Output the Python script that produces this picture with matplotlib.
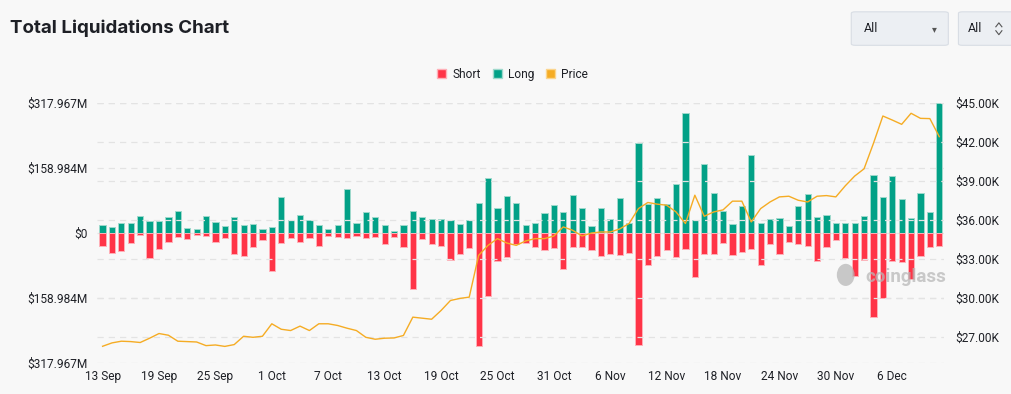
#!/usr/bin/env python3
"""Total liquidations (long / short) with BTC price overlay."""
import matplotlib
matplotlib.use("Agg")
import matplotlib.pyplot as plt
from matplotlib.patches import Patch, FancyBboxPatch, Ellipse
from matplotlib.lines import Line2D
from matplotlib.ticker import FixedLocator, FuncFormatter
import numpy as np
import pandas as pd

dates = pd.date_range("2023-09-13", "2023-12-11", freq="D")

# liquidations, million USD
long_vals = [
    20.5, 15.6, 24.6, 25.5, 42.7, 30.4, 30.4, 40.3, 55, 14, 9.9, 42.7, 27, 18, 39.4,
    19.7, 22, 10.7, 15.6, 89.6, 33.7, 43.5, 33.7,
    21, 10.7, 19.7, 108.5, 24.6, 51, 41, 20.5, 5.7, 19.7, 53.4, 39.4, 36, 36, 32,
    23, 33.7, 74.8, 134.8, 62.4, 92, 74,
    19.7, 24, 50, 68, 51.8, 93.7, 61.6, 18, 60.8, 35.3, 86, 26.3, 222, 71.5, 85.5,
    72, 120, 295, 33.7, 170, 98.6, 53.4,
    23, 67.4, 192, 26.3, 34.5, 37, 17.3, 66.5, 95.3, 40, 43.5, 25.5, 24, 24.6, 42.7,
    143, 88.7, 140.5, 84.5, 38.6, 98.6, 51.8, 317.967,
]
short_vals = [
    31, 49, 43.5, 24.6, 5, 60, 39.4, 20.5, 9, 13, 5, 7.4, 22, 12.3, 51, 55, 33, 17,
    93, 24, 12.3, 20.5, 12,
    31, 5.7, 8, 10.7, 6.6, 10.7, 9, 26, 9.9, 33.7, 136, 14.8, 27, 30.4, 66.5, 50,
    37, 276, 152.8, 68, 58, 26,
    24, 33.7, 40, 36, 88, 33.7, 33.7, 42, 56.7, 51.8, 53.4, 48.5, 273.6, 77, 55, 42,
    57.5, 38.6, 107.7, 51.8, 51.8, 24,
    52.6, 46, 38.6, 77, 26.3, 51.8, 20.5, 25.5, 30.4, 68, 33, 17.3, 60, 104, 65, 204,
    157.7, 68, 70.7, 111.7, 56.7, 33.7, 31,
]
# BTC price, thousand USD
price_vals = [
    26.31, 26.57, 26.7, 26.67, 26.6, 26.93, 27.29, 27.16, 26.7, 26.67, 26.64, 26.36,
    26.41, 26.3, 26.44, 27.08, 27.0, 27.08, 28.04, 27.62, 27.52, 27.86, 27.52,
    28.04, 28.04, 27.91, 27.7, 27.52, 27.0, 26.85, 26.93, 26.95, 27.14, 28.55, 28.47,
    28.39, 29.06, 29.83, 29.99, 30.09, 33.3, 34.07, 34.59, 34.25, 34.07,
    34.41, 34.59, 34.59, 34.79, 35.49, 35.23, 34.79, 35.02, 35.1, 35.1, 35.33, 35.75,
    36.9, 37.37, 37.24, 37.16, 36.64, 35.75, 37.93, 36.31, 36.64, 36.8,
    37.47, 37.47, 35.87, 36.9, 37.41, 37.8, 37.85, 37.54, 37.41, 37.85, 37.9, 37.8,
    38.65, 39.4, 39.96, 41.92, 44.02, 43.71, 43.38, 44.23, 43.84, 43.82, 42.43,
]
left_ticks = [-317.967, -158.984, 0, 158.984, 317.967]
right_ticks = [27, 30, 33, 36, 39, 42, 45]

BG = "#f8f8f8"
RED = "#ff3447"
GREEN = "#02a187"
ORANGE = "#f5ac24"
TXT = "#1e2026"

plt.rcParams["font.family"] = ["Roboto", "DejaVu Sans"]

fig = plt.figure(figsize=(10.11, 3.94), dpi=100, facecolor=BG)
ax = fig.add_axes([0.0959, 0.0779, 0.8378, 0.66], facecolor=BG)
ax2 = ax.twinx()

x = np.arange(len(dates))
ax.bar(x, long_vals, width=0.66, color=GREEN, edgecolor="#9fd9cc", linewidth=0.7, zorder=2)
ax.bar(x, [-v for v in short_vals], width=0.66, color=RED, edgecolor="#ffb0b8",
       linewidth=0.7, zorder=2)
ax2.plot(x, price_vals, color=ORANGE, lw=1.0, zorder=3)

ax.set_xlim(-0.6, len(dates) - 0.5)
ax.set_ylim(-317.967, 317.967)
ax2.set_ylim(25, 45)
ax.yaxis.set_major_locator(FixedLocator(left_ticks))
ax.yaxis.set_major_formatter(FuncFormatter(
    lambda v, _: "$0" if abs(v) < 1e-6 else f"${abs(v):.3f}M"))
ax2.yaxis.set_major_locator(FixedLocator(right_ticks))
ax2.yaxis.set_major_formatter(FuncFormatter(lambda v, _: f"${v:.2f}K"))

tick_idx = x[::6]
ax.set_xticks(tick_idx, [f"{d.day} {d.strftime('%b')}" for d in dates[tick_idx]])

for a in (ax, ax2):
    for s in a.spines.values():
        s.set_visible(False)
    a.tick_params(length=0, labelsize=8.6, colors=TXT)
ax.tick_params(axis="y", pad=7)
ax.tick_params(axis="x", pad=5)
ax2.tick_params(axis="y", pad=8)

grid_kw = dict(color="#e3e3e3", lw=0.9, ls=(0, (5, 4)))
ax.grid(True, axis="y", **grid_kw)
ax2.grid(True, axis="y", **grid_kw)
ax.set_zorder(ax2.get_zorder() - 1)
ax2.patch.set_visible(False)
ax.set_axisbelow(True)

# watermark (sits over the bars)
ax2.text(0.907, 0.33, "coinglass", transform=ax2.transAxes, fontsize=13.5, fontweight="bold",
         color="#b8b8b8", ha="left", va="center", alpha=0.75, zorder=5)
ax2.add_patch(Ellipse((0.884, 0.34), 0.021, 0.085, transform=ax2.transAxes,
                      facecolor="#b8b8b8", edgecolor="none", alpha=0.75, zorder=5))

fig.text(0.010, 0.928, "Total Liquidations Chart", fontsize=13.5, fontweight="bold",
         family=["Inter", "DejaVu Sans"], color=TXT, ha="left", va="center")

handles = [Patch(facecolor=RED, edgecolor="#ffb0b8", label="Short"),
           Patch(facecolor=GREEN, edgecolor="#9fd9cc", label="Long"),
           Patch(facecolor=ORANGE, edgecolor="#fbd58e", label="Price")]
fig.legend(handles=handles, loc="center", bbox_to_anchor=(0.507, 0.812), ncol=3,
           frameon=False, fontsize=8.6, handlelength=0.75, handleheight=0.75,
           handletextpad=0.5, columnspacing=1.0, labelcolor=TXT)

# selector boxes top-right
for x0, w in ((0.842, 0.096), (0.948, 0.07)):
    fig.patches.append(FancyBboxPatch((x0, 0.885), w, 0.085, boxstyle="round,pad=0,rounding_size=0.004",
                                      transform=fig.transFigure, facecolor="#eceff3",
                                      edgecolor="#d8dde4", lw=0.8))
fig.text(0.854, 0.927, "All", fontsize=9, color=TXT, va="center")
fig.text(0.922, 0.925, "▾", fontsize=7, color="#555", va="center")
fig.text(0.957, 0.927, "All", fontsize=9, color=TXT, va="center")
fig.lines.append(Line2D([0.985, 0.988, 0.991], [0.932, 0.942, 0.932], transform=fig.transFigure,
                        color="#555", lw=0.8))
fig.lines.append(Line2D([0.985, 0.988, 0.991], [0.922, 0.912, 0.922], transform=fig.transFigure,
                        color="#555", lw=0.8))

fig.savefig("out.png", dpi=100, facecolor=BG)
